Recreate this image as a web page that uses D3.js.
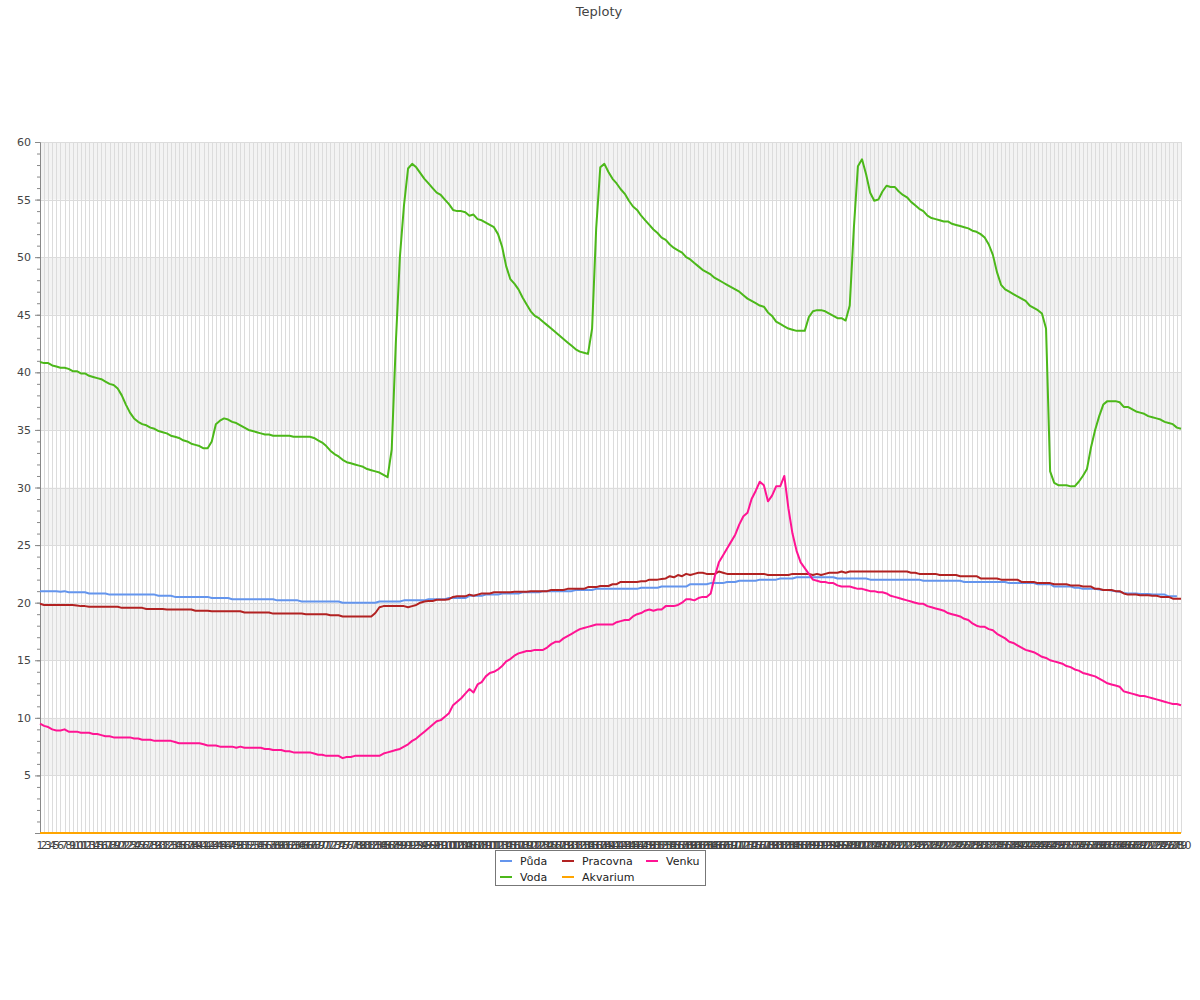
<!DOCTYPE html>
<html><head><meta charset="utf-8">
<script src="https://cdn.jsdelivr.net/npm/d3@7"></script>
<style>body{margin:0;background:#fff;font-family:"DejaVu Sans",sans-serif;}</style>
</head><body><svg id="c" width="1200" height="1000"></svg>
<script>
const title = "Teploty";
const categories = d3.range(1, 281).map(String);
const seriesNames = ["Půda", "Pracovna", "Venku", "Voda", "Akvarium"];
const seriesColors = ["#6495ed", "#b22222", "#ff1493", "#4cb81a", "#ffa500"];
const yTicks = [5,10,15,20,25,30,35,40,45,50,55,60];

const puda = [21.0,21.0,21.0,21.0,21.0,20.95,21.0,20.9,20.9,20.9,20.9,20.9,20.8,20.8,20.8,20.8,20.8,20.7,20.7,20.7,
20.7,20.7,20.7,20.7,20.7,20.7,20.7,20.7,20.7,20.6,20.6,20.6,20.6,20.5,20.5,20.5,20.5,20.5,20.5,20.5,
20.5,20.5,20.4,20.4,20.4,20.4,20.4,20.3,20.3,20.3,20.3,20.3,20.3,20.3,20.3,20.3,20.3,20.3,20.2,20.2,
20.2,20.2,20.2,20.2,20.1,20.1,20.1,20.1,20.1,20.1,20.1,20.1,20.1,20.1,20.0,20.0,20.0,20.0,20.0,20.0,
20.0,20.0,20.0,20.1,20.1,20.1,20.1,20.1,20.1,20.2,20.2,20.2,20.2,20.2,20.2,20.3,20.3,20.3,20.3,20.3,
20.4,20.4,20.4,20.4,20.4,20.6,20.6,20.6,20.6,20.7,20.7,20.7,20.7,20.8,20.8,20.8,20.8,20.8,20.9,20.9,
20.9,20.9,20.9,21.0,21.0,21.0,21.0,21.0,21.0,21.0,21.0,21.1,21.1,21.1,21.1,21.1,21.2,21.2,21.2,21.2,
21.2,21.2,21.2,21.2,21.2,21.2,21.2,21.3,21.3,21.3,21.3,21.3,21.4,21.4,21.4,21.4,21.4,21.4,21.4,21.6,
21.6,21.6,21.6,21.6,21.7,21.7,21.7,21.7,21.8,21.8,21.8,21.9,21.9,21.9,21.9,21.9,22.0,22.0,22.0,22.0,
22.0,22.1,22.1,22.1,22.1,22.2,22.2,22.2,22.2,22.2,22.2,22.2,22.2,22.2,22.2,22.1,22.1,22.1,22.1,22.1,
22.1,22.1,22.1,22.0,22.0,22.0,22.0,22.0,22.0,22.0,22.0,22.0,22.0,22.0,22.0,22.0,21.9,21.9,21.9,21.9,
21.9,21.9,21.9,21.9,21.9,21.9,21.8,21.8,21.8,21.8,21.8,21.8,21.8,21.8,21.8,21.8,21.8,21.7,21.7,21.7,
21.7,21.7,21.7,21.7,21.6,21.6,21.6,21.6,21.4,21.4,21.4,21.4,21.4,21.3,21.3,21.2,21.2,21.2,21.2,21.15,
21.1,21.1,21.05,21.0,20.95,20.85,20.8,20.8,20.8,20.75,20.75,20.75,20.7,20.7,20.7,20.7,20.55,20.55,20.55];

const pracovna = [19.9,19.8,19.8,19.8,19.8,19.8,19.8,19.8,19.8,19.75,19.7,19.7,19.65,19.65,19.65,19.65,19.65,19.65,19.65,19.65,
19.55,19.55,19.55,19.55,19.55,19.55,19.45,19.45,19.45,19.45,19.45,19.4,19.4,19.4,19.4,19.4,19.4,19.4,19.3,19.3,
19.3,19.3,19.25,19.25,19.25,19.25,19.25,19.25,19.25,19.25,19.15,19.15,19.15,19.15,19.15,19.15,19.15,19.05,19.05,19.05,
19.05,19.05,19.05,19.05,19.05,19.0,19.0,19.0,19.0,19.0,19.0,18.9,18.9,18.9,18.8,18.8,18.8,18.8,18.8,18.8,
18.8,18.8,19.1,19.6,19.7,19.7,19.7,19.7,19.7,19.7,19.6,19.7,19.8,20.0,20.1,20.15,20.15,20.25,20.25,20.25,
20.3,20.5,20.55,20.55,20.55,20.7,20.6,20.7,20.8,20.8,20.8,20.9,20.9,20.9,20.9,20.9,20.95,20.95,20.95,20.95,
21.0,21.0,21.0,21.0,21.0,21.1,21.1,21.1,21.1,21.2,21.2,21.2,21.2,21.2,21.35,21.35,21.35,21.45,21.45,21.45,
21.6,21.6,21.8,21.8,21.8,21.8,21.8,21.85,21.85,22.0,22.0,22.0,22.05,22.1,22.3,22.2,22.4,22.3,22.5,22.4,
22.5,22.6,22.6,22.5,22.5,22.5,22.7,22.6,22.5,22.5,22.5,22.5,22.5,22.5,22.5,22.5,22.5,22.5,22.4,22.4,
22.4,22.4,22.4,22.4,22.5,22.5,22.5,22.5,22.5,22.4,22.5,22.4,22.5,22.6,22.6,22.6,22.7,22.6,22.7,22.7,
22.7,22.7,22.7,22.7,22.7,22.7,22.7,22.7,22.7,22.7,22.7,22.7,22.7,22.6,22.6,22.5,22.5,22.5,22.5,22.5,
22.4,22.4,22.4,22.4,22.4,22.3,22.3,22.3,22.3,22.3,22.1,22.1,22.1,22.1,22.1,22.0,22.0,22.0,22.0,22.0,
21.8,21.8,21.8,21.8,21.7,21.7,21.7,21.7,21.6,21.6,21.6,21.6,21.5,21.5,21.5,21.4,21.4,21.4,21.2,21.2,
21.1,21.1,21.1,21.0,21.0,20.8,20.7,20.7,20.7,20.65,20.65,20.65,20.6,20.6,20.5,20.5,20.5,20.35,20.35,20.35];

const venku = [9.5,9.3,9.2,9.0,8.9,8.9,9.0,8.8,8.8,8.8,8.7,8.7,8.7,8.6,8.6,8.5,8.4,8.4,8.3,8.3,
8.3,8.3,8.3,8.2,8.2,8.1,8.1,8.1,8.0,8.0,8.0,8.0,8.0,7.9,7.8,7.8,7.8,7.8,7.8,7.8,
7.7,7.6,7.6,7.6,7.5,7.5,7.5,7.5,7.4,7.5,7.4,7.4,7.4,7.4,7.4,7.3,7.3,7.2,7.2,7.2,
7.1,7.1,7.0,7.0,7.0,7.0,7.0,6.9,6.8,6.8,6.7,6.7,6.7,6.7,6.5,6.6,6.6,6.7,6.7,6.7,
6.7,6.7,6.7,6.7,6.9,7.0,7.1,7.2,7.3,7.5,7.7,8.0,8.2,8.5,8.8,9.1,9.4,9.7,9.8,10.1,
10.4,11.1,11.4,11.7,12.1,12.5,12.2,12.9,13.1,13.6,13.9,14.0,14.2,14.5,14.9,15.1,15.4,15.6,15.7,15.8,
15.8,15.9,15.9,15.9,16.1,16.4,16.6,16.6,16.9,17.1,17.3,17.5,17.7,17.8,17.9,18.0,18.1,18.1,18.1,18.1,
18.1,18.3,18.4,18.5,18.5,18.8,19.0,19.1,19.3,19.4,19.3,19.4,19.4,19.7,19.7,19.7,19.8,20.0,20.3,20.3,
20.2,20.4,20.5,20.5,20.8,22.3,23.5,24.1,24.7,25.3,25.9,26.8,27.5,27.8,29.0,29.7,30.5,30.2,28.8,29.3,
30.1,30.1,31.0,28.2,26.0,24.5,23.5,23.0,22.5,22.0,21.9,21.8,21.8,21.7,21.7,21.5,21.4,21.4,21.4,21.3,
21.2,21.2,21.1,21.0,21.0,20.9,20.9,20.8,20.6,20.5,20.4,20.3,20.2,20.1,20.0,19.9,19.9,19.7,19.6,19.5,
19.4,19.3,19.1,19.0,18.9,18.8,18.6,18.5,18.2,18.0,17.9,17.9,17.7,17.6,17.3,17.1,16.9,16.6,16.5,16.3,
16.1,15.9,15.8,15.7,15.5,15.3,15.2,15.0,14.9,14.8,14.7,14.5,14.4,14.2,14.1,13.9,13.8,13.7,13.6,13.4,
13.2,13.0,12.9,12.8,12.7,12.3,12.2,12.1,12.0,11.9,11.9,11.8,11.7,11.6,11.5,11.4,11.3,11.2,11.2,11.1];

const voda = [40.9,40.8,40.8,40.6,40.5,40.4,40.4,40.3,40.1,40.1,39.9,39.9,39.7,39.6,39.5,39.4,39.2,39.0,38.9,38.6,
38.0,37.2,36.5,36.0,35.7,35.5,35.4,35.2,35.1,34.9,34.8,34.7,34.5,34.4,34.3,34.1,34.0,33.8,33.7,33.6,
33.4,33.4,34.0,35.5,35.8,36.0,35.9,35.7,35.6,35.4,35.2,35.0,34.9,34.8,34.7,34.6,34.6,34.5,34.5,34.5,
34.5,34.5,34.4,34.4,34.4,34.4,34.4,34.3,34.1,33.9,33.6,33.2,32.9,32.7,32.4,32.2,32.1,32.0,31.9,31.8,
31.6,31.5,31.4,31.3,31.1,30.9,33.3,42.5,50.0,54.5,57.7,58.1,57.8,57.3,56.8,56.4,56.0,55.6,55.4,55.0,
54.6,54.1,54.0,54.0,53.9,53.6,53.7,53.3,53.2,53.0,52.8,52.6,52.0,50.9,49.2,48.1,47.7,47.2,46.5,45.9,
45.3,44.9,44.7,44.4,44.1,43.8,43.5,43.2,42.9,42.6,42.3,42.0,41.8,41.7,41.6,43.8,52.5,57.8,58.1,57.4,
56.8,56.4,55.9,55.5,54.9,54.4,54.1,53.6,53.2,52.8,52.4,52.1,51.7,51.5,51.1,50.8,50.6,50.4,50.0,49.8,
49.5,49.2,48.9,48.7,48.5,48.2,48.0,47.8,47.6,47.4,47.2,47.0,46.7,46.4,46.2,46.0,45.8,45.7,45.2,44.9,
44.4,44.2,44.0,43.8,43.7,43.6,43.6,43.6,44.8,45.3,45.4,45.4,45.3,45.1,44.9,44.7,44.7,44.5,45.8,52.5,
57.9,58.5,57.2,55.6,54.9,55.0,55.7,56.2,56.1,56.1,55.7,55.4,55.2,54.8,54.5,54.2,54.0,53.6,53.4,53.3,
53.2,53.1,53.1,52.9,52.8,52.7,52.6,52.5,52.3,52.2,52.0,51.7,51.1,50.2,48.7,47.6,47.2,47.0,46.8,46.6,
46.4,46.2,45.8,45.6,45.4,45.1,43.8,31.4,30.4,30.2,30.2,30.2,30.1,30.1,30.5,31.0,31.6,33.5,35.0,36.2,
37.2,37.5,37.5,37.5,37.4,37.0,37.0,36.8,36.6,36.5,36.4,36.2,36.1,36.0,35.9,35.7,35.6,35.5,35.2,35.1];

const akvarium = categories.map(() => 0);

const series = [
  {name: seriesNames[0], color: seriesColors[0], values: puda},
  {name: seriesNames[1], color: seriesColors[1], values: pracovna},
  {name: seriesNames[2], color: seriesColors[2], values: venku},
  {name: seriesNames[3], color: seriesColors[3], values: voda},
  {name: seriesNames[4], color: seriesColors[4], values: akvarium}
];

const svg = d3.select("#c");
const L = 40, R = 1181, T = 142, B = 833;
const x = d3.scalePoint().domain(categories).range([L, R]);
const y = d3.scaleLinear().domain([0, 60]).range([B, T]);

svg.append("text").attr("x", 599).attr("y", 16).attr("text-anchor", "middle")
  .attr("font-size", 13).attr("fill", "#444").text(title);

// bands
const bandStarts = d3.range(0, 60, 5);
svg.append("g").selectAll("rect").data(bandStarts.filter(v => (v / 5) % 2 === 1)).join("rect")
  .attr("x", L).attr("width", R - L)
  .attr("y", d => y(d + 5)).attr("height", d => y(d) - y(d + 5))
  .attr("fill", "#f3f3f3");

// vertical grid
svg.append("g").selectAll("line").data(categories).join("line")
  .attr("x1", d => Math.round(x(d)) + 0.5).attr("x2", d => Math.round(x(d)) + 0.5)
  .attr("y1", T).attr("y2", B).attr("stroke", "#dcdcdc").attr("stroke-width", 1);

// horizontal grid
svg.append("g").selectAll("line").data(yTicks).join("line")
  .attr("x1", L).attr("x2", R)
  .attr("y1", d => Math.round(y(d)) + 0.5).attr("y2", d => Math.round(y(d)) + 0.5)
  .attr("stroke", "#dcdcdc");

// y axis
const yAxis = svg.append("g").attr("transform", `translate(${L},0)`);
yAxis.call(d3.axisLeft(y).tickValues(d3.range(0, 61, 1)).tickSize(3).tickFormat(""))
  .call(g => g.select(".domain").remove())
  .call(g => g.selectAll("line").attr("stroke", "#888"));
const yAxis2 = svg.append("g").attr("transform", `translate(${L},0)`);
yAxis2.call(d3.axisLeft(y).tickValues(yTicks).tickSize(5).tickPadding(4))
  .call(g => g.select(".domain").attr("stroke", "#888"))
  .call(g => g.selectAll("line").attr("stroke", "#888"))
  .call(g => g.selectAll("text").attr("font-family", "DejaVu Sans").attr("font-size", 11).attr("fill", "#444"));

// x axis line
svg.append("line").attr("x1", L - 5).attr("x2", R).attr("y1", B + 0.5).attr("y2", B + 0.5).attr("stroke", "#888");

// x labels
svg.append("g").selectAll("text").data(categories).join("text")
  .attr("x", d => x(d)).attr("y", 849).attr("text-anchor", "middle")
  .attr("font-size", 11).attr("fill", "#444").text(d => d);

// lines
const line = d3.line().x((d, i) => x(categories[i])).y(d => y(d));
svg.append("g").selectAll("path").data(series).join("path")
  .attr("d", s => line(s.values)).attr("fill", "none")
  .attr("stroke", s => s.color).attr("stroke-width", 2).attr("stroke-linejoin", "round");

// legend
const lg = svg.append("g");
lg.append("rect").attr("x", 495.5).attr("y", 850.5).attr("width", 210).attr("height", 35)
  .attr("fill", "#fff").attr("stroke", "#777");
const legPos = [[500, 861], [562, 861], [646, 861], [500, 877], [562, 877]];
series.forEach((s, i) => {
  const [lx, ly] = legPos[i];
  lg.append("line").attr("x1", lx).attr("x2", lx + 12).attr("y1", ly).attr("y2", ly)
    .attr("stroke", s.color).attr("stroke-width", 2);
  lg.append("text").attr("x", lx + 20).attr("y", ly + 4).attr("font-size", 11)
    .attr("fill", "#222").text(s.name);
});
</script></body></html>
